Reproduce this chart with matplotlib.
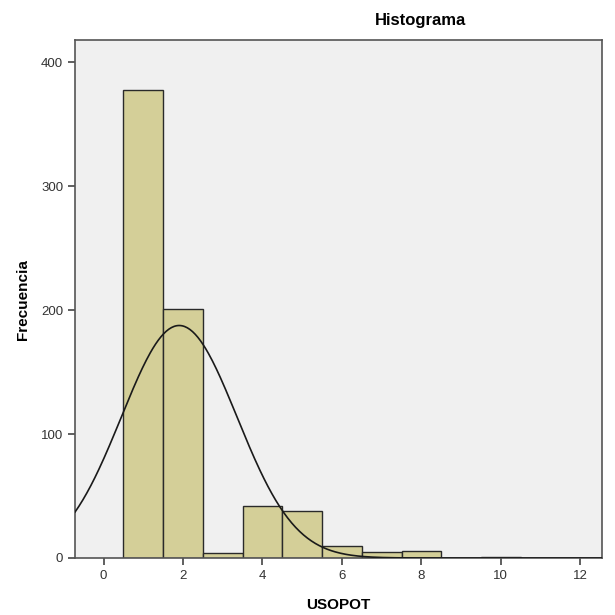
import numpy as np
import matplotlib
matplotlib.use("Agg")
import matplotlib.pyplot as plt

plt.rcParams['font.family'] = ['Liberation Sans', 'DejaVu Sans']

# Data (bin centers, counts)
bin_centers = [1, 2, 3, 4, 5, 6, 7, 8, 9, 10]
counts = [378, 201, 4, 42, 38, 10, 5, 6, 0, 1]
x_ticks = [0, 2, 4, 6, 8, 10, 12]
y_ticks = [0, 100, 200, 300, 400]

centers = np.array(bin_centers, dtype=float)
cnt = np.array(counts, dtype=float)
N = cnt.sum()
mean = (centers * cnt).sum() / N
sd = np.sqrt(((centers - mean) ** 2 * cnt).sum() / (N - 1))

fig = plt.figure(figsize=(6.15, 6.15), dpi=100)
ax = fig.add_axes([0.122, 0.0927, 0.857, 0.842])
ax.set_facecolor('#f0f0f0')

ax.bar(centers, cnt, width=1.0, color='#d4cf98', edgecolor='#2a2a2a', linewidth=1.0, zorder=2)

xlim = (-0.72, 12.55)
xs = np.linspace(xlim[0], xlim[1], 400)
ys = N * 1.0 / (sd * np.sqrt(2 * np.pi)) * np.exp(-(xs - mean) ** 2 / (2 * sd ** 2))
ax.plot(xs, ys, color='#1a1a1a', linewidth=1.2, zorder=3)

ax.set_xlim(*xlim)
ax.set_ylim(0, 418)
ax.set_xticks(x_ticks)
ax.set_yticks(y_ticks)
ax.tick_params(direction='out', length=5, width=1.2, colors='#444444', labelsize=9.5, labelcolor='#333333')
for s in ax.spines.values():
    s.set_color('#555555')
    s.set_linewidth(1.2)

ax.set_xlabel('USOPOT', fontsize=11, fontweight='bold', labelpad=12)
ax.set_ylabel('Frecuencia', fontsize=11, fontweight='bold', labelpad=8)
fig.text(0.683, 0.966, 'Histograma', ha='center', va='center', fontsize=12, fontweight='bold')

fig.savefig('out.png', dpi=100)
